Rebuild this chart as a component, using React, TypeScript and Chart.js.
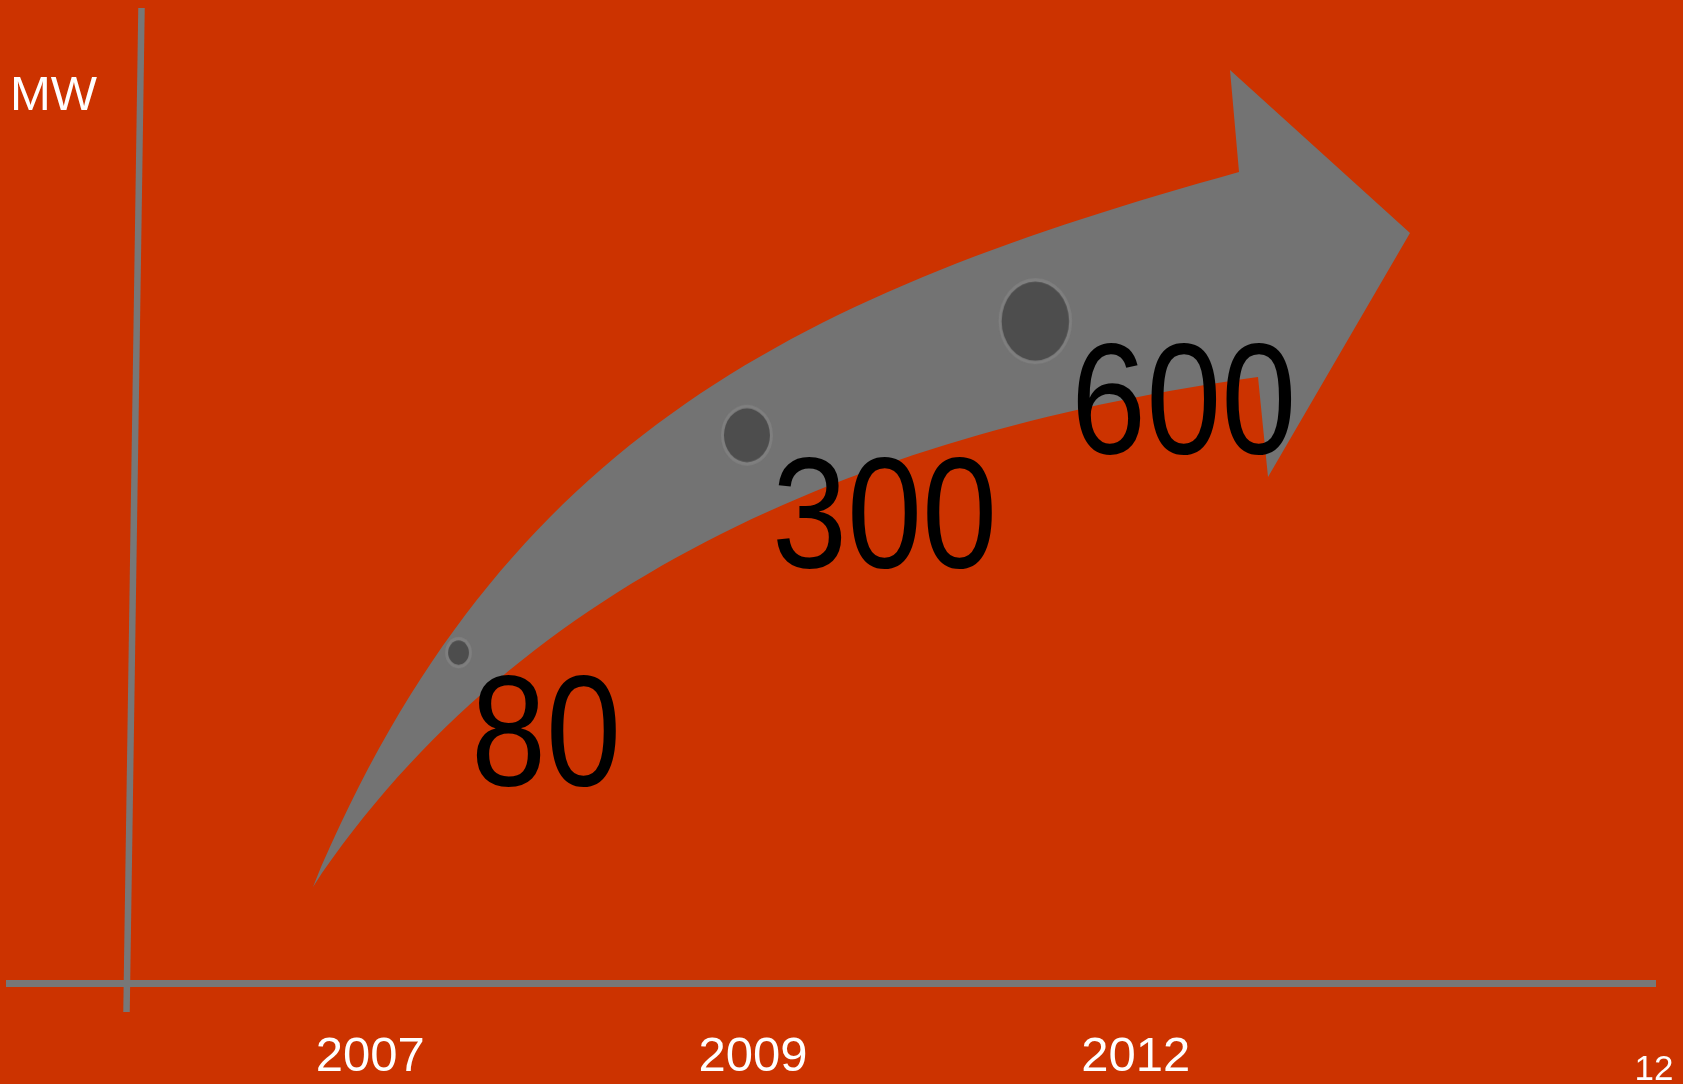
import React, { useEffect, useRef } from 'react';
import { Chart, registerables } from 'chart.js';

Chart.register(...registerables);

// ---- data ----
const YEARS = ['2007', '2009', '2012'];
const MW_VALUES = [80, 300, 600];
const UNIT_LABEL = 'MW';
const PAGE_NUMBER = '12';

// ---- layout / style ----
const W = 1683;
const H = 1084;
const BG = '#CC3300';
const ARROW_GREY = '#737373';
const AXIS_GREY = '#777777';
const FONT = '"Liberation Sans", Arial, sans-serif';
const DOT_K = 3.0; // outer dot width in px per sqrt(MW)
const STRETCH = 1.17; // vertical stretch of the slide graphics

// decorative arrow outline (canvas px): tail, bezier controls, head
const ARROW_TAIL: [number, number] = [313, 887];
const ARROW_UPPER_CTRL: [number, number][] = [[503, 431], [809, 292], [1239, 172]];
const ARROW_HEAD: [number, number][] = [[1230, 70], [1410, 233], [1268, 477], [1258, 377]];
const ARROW_LOWER_CTRL: [number, number][] = [[878, 430], [523, 572], [313, 887]];

function makeDot(value: number): HTMLCanvasElement {
  const w = DOT_K * Math.sqrt(value);
  const h = w * STRETCH;
  const c = document.createElement('canvas');
  c.width = Math.round(w) + 4;
  c.height = Math.round(h) + 4;
  const g = c.getContext('2d')!;
  const cx = c.width / 2;
  const cy = c.height / 2;
  g.fillStyle = '#7f7f7f';
  g.beginPath();
  g.ellipse(cx, cy, w / 2, h / 2, 0, 0, Math.PI * 2);
  g.fill();
  const ring = 3;
  g.fillStyle = '#4d4d4d';
  g.beginPath();
  g.ellipse(cx, cy, w / 2 - ring, h / 2 - ring * STRETCH, 0, 0, Math.PI * 2);
  g.fill();
  return c;
}

const slidePlugin = {
  id: 'slide',
  beforeDraw(chart: any) {
    const ctx = chart.ctx as CanvasRenderingContext2D;
    ctx.save();
    ctx.fillStyle = BG;
    ctx.fillRect(0, 0, chart.width, chart.height);
    // axes
    ctx.strokeStyle = AXIS_GREY;
    ctx.lineCap = 'butt';
    ctx.lineWidth = 6.5;
    ctx.beginPath();
    ctx.moveTo(141.5, 8);
    ctx.lineTo(126.5, 1012);
    ctx.stroke();
    ctx.lineWidth = 7;
    ctx.beginPath();
    ctx.moveTo(6, 983.5);
    ctx.lineTo(1656, 983.5);
    ctx.stroke();
    // arrow
    ctx.fillStyle = ARROW_GREY;
    ctx.beginPath();
    ctx.moveTo(ARROW_TAIL[0], ARROW_TAIL[1]);
    const [u1, u2, u3] = ARROW_UPPER_CTRL;
    ctx.bezierCurveTo(u1[0], u1[1], u2[0], u2[1], u3[0], u3[1]);
    ARROW_HEAD.forEach(([x, y]) => ctx.lineTo(x, y));
    const [l1, l2, l3] = ARROW_LOWER_CTRL;
    ctx.bezierCurveTo(l1[0], l1[1], l2[0], l2[1], l3[0], l3[1]);
    ctx.closePath();
    ctx.fill();
    ctx.restore();
  },
  afterDatasetsDraw(chart: any) {
    const ctx = chart.ctx as CanvasRenderingContext2D;
    const meta = chart.getDatasetMeta(0);
    meta.data.forEach((el: any, i: number) => {
      const v = MW_VALUES[i];
      const r = (DOT_K * Math.sqrt(v)) / 2;
      ctx.save();
      ctx.translate(el.x + r - 1, el.y + 132);
      ctx.scale(1, STRETCH);
      ctx.font = `135px ${FONT}`;
      ctx.fillStyle = '#000000';
      ctx.textAlign = 'left';
      ctx.textBaseline = 'alphabetic';
      ctx.fillText(String(v), 0, 0);
      ctx.restore();
    });
  },
  afterDraw(chart: any) {
    const ctx = chart.ctx as CanvasRenderingContext2D;
    const yearAxis = chart.scales.yearAxis;
    ctx.save();
    ctx.fillStyle = '#ffffff';
    ctx.textBaseline = 'alphabetic';
    ctx.font = `49px ${FONT}`;
    ctx.textAlign = 'left';
    ctx.fillText(UNIT_LABEL, 10, 110);
    ctx.textAlign = 'center';
    YEARS.forEach((yr, i) => {
      ctx.fillText(yr, yearAxis.getPixelForValue(i), 1071);
    });
    ctx.font = `35px ${FONT}`;
    ctx.fillText(PAGE_NUMBER, 1654, 1080);
    ctx.restore();
  },
};

export default function App() {
  const ref = useRef<HTMLCanvasElement>(null);
  useEffect(() => {
    document.body.style.margin = '0';
    const dots = MW_VALUES.map(makeDot);
    const chart = new Chart(ref.current as HTMLCanvasElement, {
      type: 'scatter',
      data: {
        labels: YEARS,
        datasets: [
          {
            label: UNIT_LABEL,
            data: MW_VALUES.map((v, i) => ({ x: i, y: v })),
            pointStyle: dots as any,
            pointRadius: MW_VALUES.map((v) => (DOT_K * Math.sqrt(v)) / 2),
            backgroundColor: '#4d4d4d',
            borderWidth: 0,
          },
        ],
      },
      options: {
        responsive: false,
        animation: false,
        devicePixelRatio: 1,
        events: [],
        layout: { padding: 0, autoPadding: false },
        plugins: { legend: { display: false }, tooltip: { enabled: false } },
        scales: {
          x: { type: 'linear', display: false, min: -1.5898, max: 4.2458, bounds: 'data' },
          yearAxis: { type: 'linear', axis: 'x', display: false, min: -0.96734, max: 3.42979, bounds: 'data' },
          y: { type: 'logarithmic', display: false, min: 5.812, max: 4227, bounds: 'data' },
        },
      } as any,
      plugins: [slidePlugin],
    });
    return () => chart.destroy();
  }, []);
  return (
    <div style={{ position: 'fixed', left: 0, top: 0, width: W, height: H, background: BG }}>
      <canvas ref={ref} width={W} height={H} style={{ display: 'block', width: W, height: H }} />
    </div>
  );
}
